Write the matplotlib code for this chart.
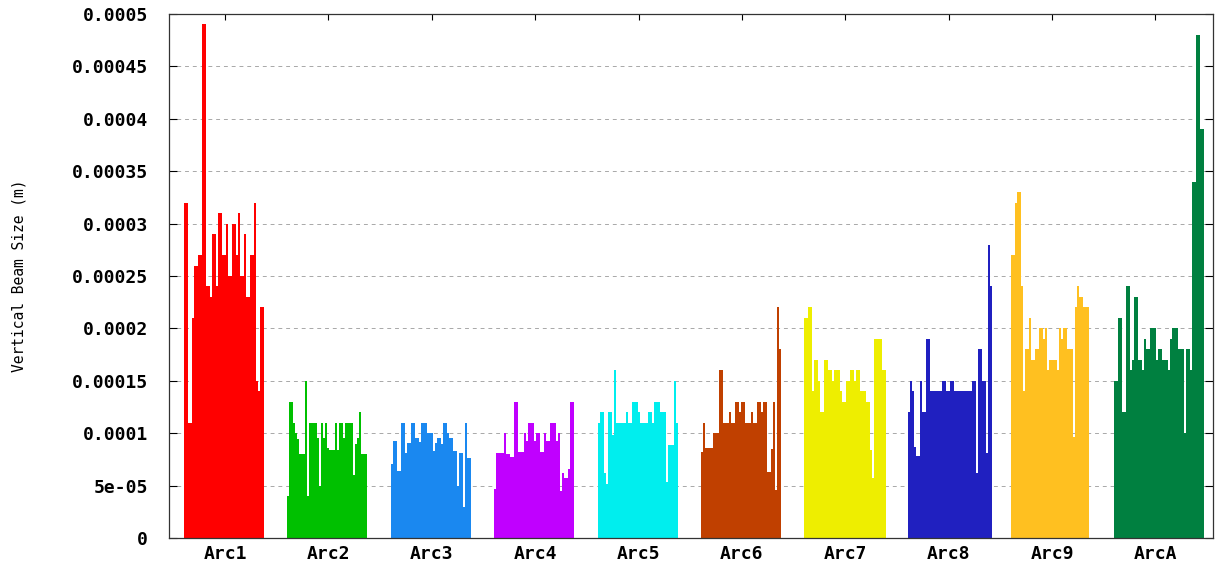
import matplotlib
matplotlib.use('Agg')
import matplotlib.pyplot as plt
import numpy as np

scale = 1e-5  # values below are in units of 1e-5 m

names = ['Arc1', 'Arc2', 'Arc3', 'Arc4', 'Arc5', 'Arc6', 'Arc7', 'Arc8', 'Arc9', 'ArcA']
colors = ['#ff0000', '#00c000', '#1a88f0', '#c000ff', '#00eeee',
          '#c04000', '#eeee00', '#2020c0', '#ffc020', '#008040']

arc1 = [32, 32, 11, 11, 21, 26, 26, 27, 27, 49, 49, 24, 24, 23, 29, 29, 24, 31, 31, 27,
        27, 30, 25, 25, 30, 30, 27, 31, 25, 25, 29, 23, 23, 27, 27, 32, 15, 14, 22, 22]
arc2 = [4, 13, 13, 11, 10, 9.4, 8, 8, 8, 15, 4, 11, 11, 11, 11, 9.5, 5, 11, 9.5, 11,
        8.6, 8.4, 8.4, 8.4, 11, 8.4, 11, 11, 9.5, 11, 11, 11, 11, 6, 9, 9.5, 12, 8, 8, 8]
arc3 = [7.1, 9.3, 9.3, 6.4, 6.4, 11, 11, 8.1, 9.1, 9.1, 11, 11, 9.5, 9.5, 9.2, 11, 11, 11, 10, 10,
        10, 8.3, 9.1, 9.5, 9.5, 9, 11, 11, 10, 9.5, 9.5, 8.3, 8.3, 5, 8.1, 8.1, 3, 11, 7.6, 7.6]
arc4 = [4.7, 8.1, 8.1, 8.1, 8.1, 10, 8, 8, 7.7, 7.7, 13, 13, 8.2, 8.2, 8.2, 10, 9.3, 11, 11, 11,
        9.3, 10, 10, 8.2, 8.2, 10, 9.3, 9.3, 11, 11, 11, 9.3, 10, 4.5, 6.2, 5.7, 5.7, 6.6, 13, 13]
arc5 = [11, 12, 12, 6.2, 5.2, 12, 12, 9.8, 16, 11, 11, 11, 11, 11, 12, 11, 11, 13, 13, 13,
        12, 11, 11, 11, 11, 12, 12, 11, 13, 13, 13, 12, 12, 12, 5.3, 8.9, 8.9, 8.9, 15, 11]
arc6 = [8.2, 11, 8.6, 8.6, 8.6, 8.6, 10, 10, 10, 16, 16, 11, 11, 11, 12, 11, 11, 13, 13, 12,
        13, 13, 11, 11, 11, 12, 11, 11, 13, 13, 12, 13, 13, 6.3, 6.3, 8.5, 13, 4.6, 22, 18]
arc7 = [21, 21, 22, 22, 14, 17, 17, 15, 12, 12, 17, 17, 16, 16, 15, 16, 16, 16, 14, 13,
        13, 15, 15, 16, 16, 15, 16, 16, 14, 14, 14, 13, 13, 8.4, 5.7, 19, 19, 19, 19, 16, 16]
arc8 = [12, 15, 14, 8.7, 7.8, 7.8, 15, 12, 12, 19, 19, 14, 14, 14, 14, 14, 14, 15, 15, 14,
        14, 15, 15, 14, 14, 14, 14, 14, 14, 14, 14, 14, 15, 15, 6.2, 18, 18, 15, 15, 8.1, 28, 24]
arc9 = [27, 27, 32, 33, 33, 24, 14, 18, 18, 21, 17, 17, 18, 18, 20, 20, 19, 20, 16, 17,
        17, 17, 17, 16, 20, 19, 20, 20, 18, 18, 18, 9.6, 22, 24, 23, 23, 22, 22, 22]
arcA = [15, 15, 21, 21, 12, 12, 24, 24, 16, 17, 23, 23, 17, 17, 16, 19, 18, 18, 20, 20,
        20, 17, 18, 18, 17, 17, 17, 16, 19, 20, 20, 20, 18, 18, 18, 10, 18, 18, 16, 34, 34, 48, 48, 39, 39]
groups = [arc1, arc2, arc3, arc4, arc5, arc6, arc7, arc8, arc9, arcA]

fig = plt.figure(figsize=(12.25, 5.63), dpi=100)
ax = fig.add_axes([0.138, 0.0444, 0.852, 0.9307])

first = 7.5
step = 51.7
centers = []
for i, vals in enumerate(groups):
    x0 = first + i * step
    xs = x0 + np.arange(len(vals)) + 0.5
    ax.bar(xs, np.array(vals) * scale, width=1.0, color=colors[i], linewidth=0, zorder=2)
    centers.append(x0 + 20.5)

ax.set_xlim(0, 522)
ax.set_ylim(0, 0.0005)

yt = np.arange(0, 0.00050001, 0.00005)
ax.set_yticks(yt)
ax.set_yticklabels(['%g' % v for v in yt])
ax.set_xticks(centers)
ax.set_xticklabels(names)

mono = 'DejaVu Sans Mono'
for lab in ax.get_yticklabels() + ax.get_xticklabels():
    lab.set_family(mono)
    lab.set_fontweight('bold')
    lab.set_fontsize(13)

ax.tick_params(axis='y', direction='in', length=6, width=0.8, left=True, right=True, pad=15)
ax.tick_params(axis='x', direction='in', length=4, width=0.8, top=True, bottom=True, pad=5)

ax.grid(axis='y', color='#a8a8a8', linestyle=(0, (4, 4)), linewidth=0.7, zorder=1)
ax.set_axisbelow(True)
for s in ax.spines.values():
    s.set_linewidth(0.9)
    s.set_color('#333333')

ax.set_ylabel('Vertical Beam Size (m)', family=mono, fontsize=10.5)
ax.yaxis.set_label_coords(-0.137, 0.5)

fig.savefig('out.png', dpi=100)
